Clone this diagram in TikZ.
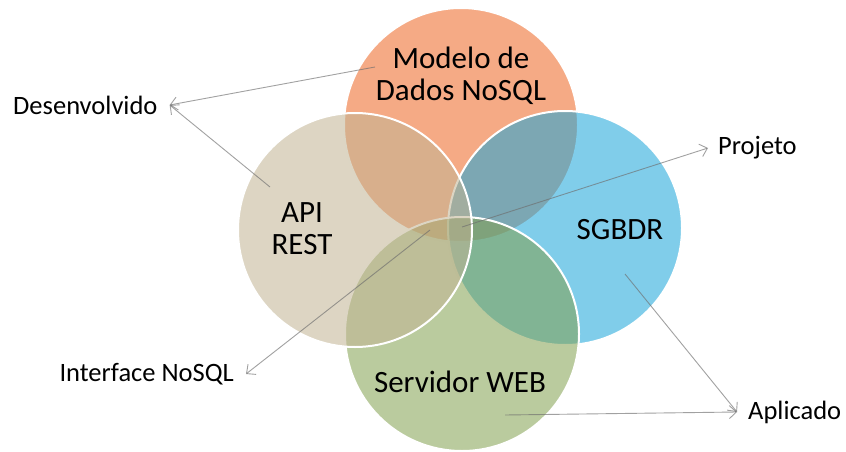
\documentclass[tikz,border=0pt]{standalone}
\usepackage{fontspec}
\setmainfont{Carlito}
\usetikzlibrary{arrows.meta}
\definecolor{mdlOrange}{RGB}{237,100,33}
\definecolor{apiBeige}{RGB}{193,179,146}
\definecolor{sgbdBlue}{RGB}{24,164,217}
\definecolor{webGreen}{RGB}{130,160,79}
\definecolor{ptrGray}{RGB}{110,110,110}

\begin{document}
\begin{tikzpicture}[x=1pt,y=-1pt,
    venn/.style={circle, minimum size=234pt, inner sep=0pt,
      draw=white, line width=2pt, fill opacity=0.55},
    big/.style={font=\fontsize{31}{32}\selectfont, align=center},
    lbl/.style={font=\fontsize{26.5}{28}\selectfont, inner sep=2pt},
    ptr/.style={draw=ptrGray, draw opacity=0.65, line width=0.9pt,
      -{Straight Barb[length=7pt,width=13pt]}}]
    \useasboundingbox (0,0) rectangle (846,452);

    % the four circles
    \node[venn, fill=mdlOrange] (cMdl) at (461,125) {};
    \node[venn, fill=sgbdBlue]  (cBd)  at (565,228) {};
    \node[venn, fill=webGreen]  (cWeb) at (462,334) {};
    \node[venn, fill=apiBeige]  (cApi) at (355,230) {};

    % texts in the circles
    \node[big] (tMdl) at (461,76)  {Modelo de\\Dados NoSQL};
    \node[big] (tApi) at (302,229) {API\\REST};
    \node[big] (tBd)  at (620,230) {SGBDR};
    \node[big] (tWeb) at (460,382) {Servidor WEB};

    % labels outside
    \node[lbl, anchor=west] (dev)  at (11,105)  {Desenvolvido};
    \node[lbl, anchor=west] (proj) at (716,148) {Projeto};
    \node[lbl, anchor=east] (intf) at (236,374) {Interface NoSQL};
    \node[lbl, anchor=west] (apl)  at (746,412) {Aplicado};

    % start points of the pointers
    \coordinate (sMdl) at (375,67);
    \coordinate (sApi) at (270,187);
    \coordinate (sPrj) at (462,227);
    \coordinate (sInt) at (430,230);
    \coordinate (sBd)  at (625,274);
    \coordinate (sWeb) at (505,415);

    \path
        (sMdl) edge[ptr] ([xshift=10pt]dev.east)
        (sApi) edge[ptr] ([xshift=10pt]dev.east)
        (sPrj) edge[ptr] ([xshift=-8pt]proj.west)
        (sInt) edge[ptr] ([xshift=10pt]intf.east)
        (sBd)  edge[ptr] ([xshift=-9pt]apl.west)
        (sWeb) edge[ptr] ([xshift=-9pt]apl.west);
\end{tikzpicture}
\end{document}
